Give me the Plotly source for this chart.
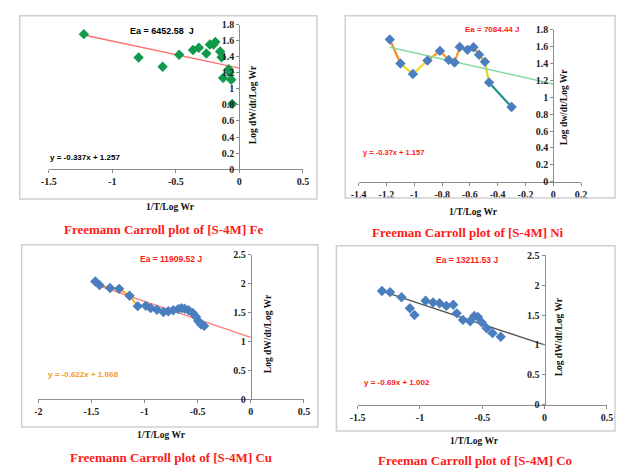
import plotly.graph_objects as go
from plotly.colors import sample_colorscale

W, H = 622, 472

# ---------------- data ----------------
# [S-4M] Fe
fe_x = [-1.224, -0.793, -0.604, -0.474, -0.365, -0.319, -0.260, -0.232, -0.204,
        -0.189, -0.151, -0.140, -0.084, -0.077, -0.128, -0.064, -0.056]
fe_y = [1.680, 1.390, 1.275, 1.424, 1.484, 1.512, 1.440, 1.552, 1.552,
        1.584, 1.464, 1.392, 1.243, 1.202, 1.135, 1.114, 0.813]
fe_slope, fe_icpt = -0.337, 1.257
fe_ea = "Ea = 6452.58  J"
fe_eq = "y = -0.337x + 1.257"

# [S-4M] Ni
ni_x = [-1.176, -1.099, -1.010, -0.905, -0.815, -0.752, -0.710, -0.673, -0.617,
        -0.574, -0.534, -0.492, -0.462, -0.300]
ni_y = [1.684, 1.399, 1.276, 1.434, 1.549, 1.442, 1.411, 1.595, 1.561,
        1.592, 1.503, 1.419, 1.176, 0.884]
ni_slope, ni_icpt = -0.37, 1.157
ni_ea = "Ea = 7084.44 J"
ni_eq = "y = -0.37x + 1.157"

# [S-4M] Cu
cu_x = [-1.463, -1.423, -1.325, -1.239, -1.141, -1.064, -0.988, -0.942, -0.883,
        -0.822, -0.776, -0.730, -0.684, -0.653, -0.623, -0.586, -0.546, -0.515,
        -0.494, -0.469, -0.439]
cu_y = [2.034, 1.970, 1.922, 1.906, 1.788, 1.607, 1.612, 1.573, 1.545,
        1.506, 1.518, 1.535, 1.556, 1.573, 1.562, 1.535, 1.489, 1.422,
        1.349, 1.292, 1.265]
cu_slope, cu_icpt = -0.622, 1.068
cu_ea = "Ea = 11909.52 J"
cu_eq = "y = -0.622x + 1.068"

# [S-4M] Co
co_x = [-1.305, -1.240, -1.148, -1.081, -1.044, -0.955, -0.895, -0.843, -0.788,
        -0.733, -0.705, -0.655, -0.597, -0.564, -0.535, -0.504, -0.465, -0.418,
        -0.352]
co_y = [1.905, 1.885, 1.800, 1.615, 1.503, 1.740, 1.713, 1.699, 1.655,
        1.675, 1.530, 1.420, 1.397, 1.487, 1.468, 1.378, 1.280, 1.198,
        1.138]
co_slope, co_icpt = -0.69, 1.002
co_ea = "Ea = 13211.53 J"
co_eq = "y = -0.69x + 1.002"

# tick values and labels
fe_xticks = [-1.5, -1, -0.5, 0, 0.5]
fe_xlabels = ["-1.5", "-1", "-0.5", "0", "0.5"]
ni_xticks = [-1.4, -1.2, -1.0, -0.8, -0.6, -0.4, -0.2, 0, 0.2]
ni_xlabels = ["-1.4", "-1.2", "-1", "-0.8", "-0.6", "-0.4", "-0.2", "0", "0.2"]
cu_xticks = [-2, -1.5, -1, -0.5, 0, 0.5]
cu_xlabels = ["-2", "-1.5", "-1", "-0.5", "0", "0.5"]
co_xticks = [-1.5, -1, -0.5, 0, 0.5]
co_xlabels = ["-1.5", "-1", "-0.5", "0", "0.5"]
small_yticks = [0, 0.2, 0.4, 0.6, 0.8, 1.0, 1.2, 1.4, 1.6, 1.8]
small_ylabels = ["0", "0.2", "0.4", "0.6", "0.8", "1", "1.2", "1.4", "1.6", "1.8"]
big_yticks = [0, 0.5, 1.0, 1.5, 2.0, 2.5]
big_ylabels = ["0", "0.5", "1", "1.5", "2", "2.5"]

# ---------------- helpers ----------------
def px(x, y):
    return x / W, 1 - y / H

BLUE = "#4a7ebf"
GREEN = "#119a4c"
RED = "#ff1a1a"
TICKFONT = dict(family="Liberation Serif", size=10, color="#222222", weight="bold")

fig = go.Figure()
layout_axes = {}
annotations = []
shapes = []

panels = [
    # suffix, xrange, yrange, x px domain, y px domain (top, bottom), ticks
    dict(n="", xr=[-1.5, 0.5], yr=[0, 1.8], xd=(41.7, 301.7), yd=(19, 167.5),
         xt=(fe_xticks, fe_xlabels), yt=(small_yticks, small_ylabels)),
    dict(n="2", xr=[-1.4, 0.2], yr=[0, 1.8], xd=(358.7, 586.3), yd=(24.3, 180.3),
         xt=(ni_xticks, ni_xlabels), yt=(small_yticks, small_ylabels)),
    dict(n="3", xr=[-2, 0.5], yr=[0, 2.5], xd=(31, 302.7), yd=(255, 403.3),
         xt=(cu_xticks, cu_xlabels), yt=(big_yticks, big_ylabels)),
    dict(n="4", xr=[-1.5, 0.5], yr=[0, 2.5], xd=(357.7, 612.7), yd=(256, 409),
         xt=(co_xticks, co_xlabels), yt=(big_yticks, big_ylabels)),
]

for p in panels:
    x0 = p["xd"][0] / W
    x1 = p["xd"][1] / W
    y0 = 1 - p["yd"][1] / H
    y1 = 1 - p["yd"][0] / H
    xr, yr = p["xr"], p["yr"]
    ypos = x0 + (0 - xr[0]) / (xr[1] - xr[0]) * (x1 - x0)
    layout_axes["xaxis" + p["n"]] = dict(
        domain=[x0, x1], range=xr, anchor="y" + p["n"], showgrid=False,
        zeroline=False, showline=True, linecolor="#8c8c8c", linewidth=1,
        ticks="outside", ticklen=3, tickcolor="#8c8c8c",
        tickvals=p["xt"][0], ticktext=p["xt"][1], tickfont=TICKFONT)
    layout_axes["yaxis" + p["n"]] = dict(
        domain=[y0, y1], range=yr, anchor="free", position=ypos, showgrid=False,
        zeroline=False, showline=True, linecolor="#8c8c8c", linewidth=1,
        ticks="outside", ticklen=3, tickcolor="#8c8c8c",
        tickvals=p["yt"][0], ticktext=p["yt"][1], tickfont=TICKFONT)


def trend(xs, slope, icpt):
    tx = [min(xs), 0.0]
    return tx, [slope * v + icpt for v in tx]

# Fe: green diamonds with salmon trendline
tx, ty = trend(fe_x, fe_slope, fe_icpt)
fig.add_trace(go.Scatter(x=tx, y=ty, mode="lines", line=dict(color="#ff7070", width=1.3),
                         xaxis="x", yaxis="y", hoverinfo="skip"))
fig.add_trace(go.Scatter(x=fe_x, y=fe_y, mode="markers",
                         marker=dict(symbol="diamond", size=8, color=GREEN),
                         xaxis="x", yaxis="y"))

# Ni: gradient-coloured connecting line, green trendline, blue diamonds
ni_scale = [[0.0, "#1f5fbf"], [0.25, "#1fa37a"], [0.45, "#c8dc1e"], [0.6, "#ffd21e"],
            [0.78, "#ff9a1e"], [1.0, "#ff3a4a"]]
ymin, ymax = min(ni_y), max(ni_y)
for i in range(len(ni_x) - 1):
    mid = (ni_y[i] + ni_y[i + 1]) / 2
    t = (mid - ymin) / (ymax - ymin)
    col = sample_colorscale(ni_scale, [t])[0]
    fig.add_trace(go.Scatter(x=ni_x[i:i + 2], y=ni_y[i:i + 2], mode="lines",
                             line=dict(color=col, width=2.2),
                             xaxis="x2", yaxis="y2", hoverinfo="skip"))
tx, ty = trend(ni_x, ni_slope, ni_icpt)
fig.add_trace(go.Scatter(x=tx, y=ty, mode="lines", line=dict(color="#86d8a0", width=1.4),
                         xaxis="x2", yaxis="y2", hoverinfo="skip"))
fig.add_trace(go.Scatter(x=ni_x, y=ni_y, mode="markers",
                         marker=dict(symbol="diamond", size=8, color=BLUE),
                         xaxis="x2", yaxis="y2"))

# Cu: orange/red connecting line, pink trendline, blue diamonds
fig.add_trace(go.Scatter(x=cu_x[:6], y=cu_y[:6], mode="lines",
                         line=dict(color="#ffa31a", width=1.8),
                         xaxis="x3", yaxis="y3", hoverinfo="skip"))
fig.add_trace(go.Scatter(x=cu_x[5:], y=cu_y[5:], mode="lines",
                         line=dict(color="#ff3030", width=1.5),
                         xaxis="x3", yaxis="y3", hoverinfo="skip"))
tx, ty = trend(cu_x, cu_slope, cu_icpt)
fig.add_trace(go.Scatter(x=tx, y=ty, mode="lines", line=dict(color="#ff7a7a", width=1.3),
                         xaxis="x3", yaxis="y3", hoverinfo="skip"))
fig.add_trace(go.Scatter(x=cu_x, y=cu_y, mode="markers",
                         marker=dict(symbol="diamond", size=8, color=BLUE),
                         xaxis="x3", yaxis="y3"))

# Co: blue diamonds with dark grey trendline
tx, ty = trend(co_x, co_slope, co_icpt)
fig.add_trace(go.Scatter(x=tx, y=ty, mode="lines", line=dict(color="#555555", width=1.4),
                         xaxis="x4", yaxis="y4", hoverinfo="skip"))
fig.add_trace(go.Scatter(x=co_x, y=co_y, mode="markers",
                         marker=dict(symbol="diamond", size=8, color=BLUE),
                         xaxis="x4", yaxis="y4"))

# ---------------- text ----------------
def note(text, x, y, size, color="#000000", family="Liberation Sans", angle=0):
    ax, ay = px(x, y)
    annotations.append(dict(text=text, x=ax, y=ay, xref="paper", yref="paper",
                            xanchor="center", yanchor="middle", showarrow=False,
                            textangle=angle,
                            font=dict(family=family, size=size, color=color, weight="bold")))

SERIF = "Liberation Serif"

note(fe_ea, 158, 25.3, 9)
note(fe_eq, 78.3, 155.3, 8)
note(ni_ea, 496, 24, 8, RED)
note(ni_eq, 394, 150.7, 7.5, RED)
note(cu_ea, 166.7, 260, 8.5, RED)
note(cu_eq, 77, 378, 8, "#f59a23")
note(co_ea, 470, 260.3, 8.5, RED)
note(co_eq, 398, 386, 8, RED)

for (xx, yy) in [(166.7, 206.7), (476.7, 211.7), (157, 440), (477.7, 446.7)]:
    note("1/T/Log Wr", xx, yy, 9.5, "#111111", SERIF)

note("Log dW/dt/Log Wr", 250.7, 101.7, 9.5, "#111111", SERIF, -90)
note("Log dw/dt/Log Wr", 568.7, 104, 9.5, "#111111", SERIF, -90)
note("Log dW/dt/Log Wr", 266.7, 336, 9.5, "#111111", SERIF, -90)
note("Log dW/dt/Log Wr", 563.7, 340, 9.5, "#111111", SERIF, -90)

note("Freemann Carroll plot of [S-4M] Fe", 159, 229.3, 13, RED, SERIF)
note("Freeman Carroll plot of [S-4M] Ni", 471, 232.5, 13, RED, SERIF)
note("Freemann Carroll plot of [S-4M] Cu", 167, 463.7, 13, RED, SERIF)
note("Freeman Carroll plot of [S-4M] Co", 477.7, 466.5, 13, RED, SERIF)

# chart frames
for (l, t, r, b) in [(12, 10, 316, 198), (345, 10, 621, 197),
                     (14, 245, 317, 432), (336, 246, 621, 436)]:
    x0, y1 = px(l, t)
    x1, y0 = px(r, b)
    shapes.append(dict(type="rect", xref="paper", yref="paper", x0=x0, x1=x1,
                       y0=y0, y1=y1, line=dict(color="#cfcfcf", width=1.5)))

fig.update_layout(
    width=W, height=H, margin=dict(l=0, r=0, t=0, b=0),
    paper_bgcolor="white", plot_bgcolor="rgba(0,0,0,0)",
    showlegend=False, annotations=annotations, shapes=shapes,
    **layout_axes,
)

fig.write_html("out.html")
